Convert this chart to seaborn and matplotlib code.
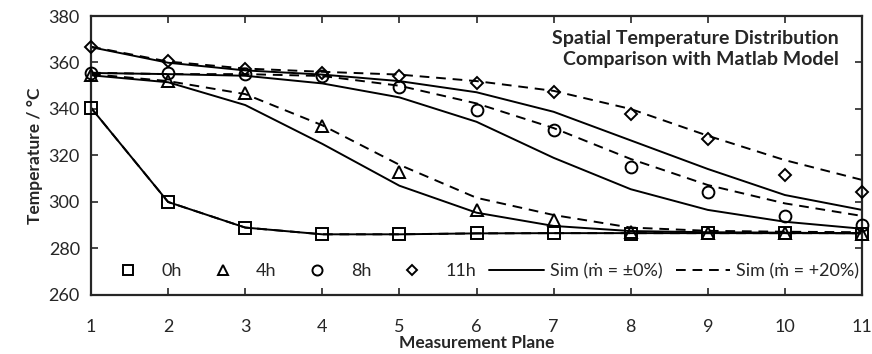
import pandas as pd
import matplotlib
matplotlib.use('Agg')
import matplotlib.pyplot as plt
import seaborn as sns

# ----- measured vs simulated temperature along the measurement planes -----

planes = [1, 2, 3, 4, 5, 6, 7, 8, 9, 10, 11]
hours = ['0h', '4h', '8h', '11h']

# measured values
meas_0h = [340.5, 300.0, 289.0, 286.1, 286.1, 286.8, 286.8, 286.2, 286.5, 286.5, 286.2]
meas_4h = [354.6, 352.2, 346.7, 332.5, 313.0, 296.5, 292.3, 287.0, 286.5, 286.5, 286.2]
meas_8h = [355.6, 355.3, 355.0, 354.4, 349.6, 339.6, 331.0, 315.2, 304.4, 294.0, 290.0]
meas_11h = [366.6, 360.6, 357.4, 355.6, 354.2, 351.0, 347.4, 338.0, 327.0, 311.6, 304.4]

# simulation, mass flow +-0%
sim0_0h = [340.5, 300.0, 289.0, 286.1, 286.1, 286.5, 286.6, 286.6, 286.6, 286.6, 286.6]
sim0_4h = [354.5, 351.5, 341.7, 325.0, 307.0, 295.4, 289.7, 287.5, 287.0, 286.8, 286.5]
sim0_8h = [355.5, 355.0, 354.3, 351.0, 345.0, 334.5, 319.0, 305.5, 296.6, 291.5, 288.5]
sim0_11h = [366.6, 359.9, 356.6, 354.8, 352.0, 347.2, 338.8, 326.5, 314.2, 303.0, 296.6]

# simulation, mass flow +20%
sim20_0h = [340.5, 300.0, 289.0, 286.1, 286.1, 286.5, 286.6, 286.6, 286.6, 286.6, 286.6]
sim20_4h = [355.0, 352.0, 346.4, 333.0, 316.0, 301.8, 294.4, 289.0, 287.6, 287.2, 287.0]
sim20_8h = [355.6, 355.0, 355.0, 354.2, 350.0, 342.4, 331.8, 318.5, 307.3, 299.4, 294.0]
sim20_11h = [366.8, 360.4, 357.4, 356.0, 354.8, 352.0, 347.8, 340.0, 328.5, 318.0, 309.5]

meas = {'0h': meas_0h, '4h': meas_4h, '8h': meas_8h, '11h': meas_11h}
sim0 = {'0h': sim0_0h, '4h': sim0_4h, '8h': sim0_8h, '11h': sim0_11h}
sim20 = {'0h': sim20_0h, '4h': sim20_4h, '8h': sim20_8h, '11h': sim20_11h}
markers = {'0h': 's', '4h': '^', '8h': 'o', '11h': 'D'}
msizes = {'0h': 8, '4h': 8, '8h': 8.5, '11h': 6.5}

sns.set_style('ticks')
plt.rcParams['font.family'] = ['Lato', 'DejaVu Sans']

fig, ax = plt.subplots(figsize=(8.72, 3.54), dpi=100)
fig.subplots_adjust(left=0.1044, right=0.9885, top=0.9548, bottom=0.1667)

for h in hours:
    sns.lineplot(x=planes, y=sim0[h], ax=ax, color='black', lw=1.4, legend=False)
    sns.lineplot(x=planes, y=sim20[h], ax=ax, color='black', lw=1.4, legend=False,
                 linestyle=(0, (5, 3.5)))

for h in hours:
    ax.plot(planes, meas[h], linestyle='none', marker=markers[h], ms=msizes[h],
            mfc='none', mec='black', mew=1.4, clip_on=False, zorder=5)

# legend handles
handles = []
for h in hours:
    handles.append(plt.Line2D([], [], linestyle='none', marker=markers[h], ms=msizes[h] * 0.85,
                              mfc='none', mec='black', mew=1.4, label=h))
handles.append(plt.Line2D([], [], color='black', lw=1.4, label='Sim (ṁ = ±0%)'))
handles.append(plt.Line2D([], [], color='black', lw=1.4, linestyle=(0, (5, 3.5)),
                          label='Sim (ṁ = +20%)'))
ax.legend(handles=handles, ncol=6, frameon=False, loc='center',
          bbox_to_anchor=(0.505, 0.086), fontsize=13, handlelength=3,
          handletextpad=0.35, columnspacing=0.75, borderpad=0)

ax.text(0.9705, 0.95, 'Spatial Temperature Distribution\nComparison with Matlab Model',
        transform=ax.transAxes, ha='right', va='top', fontsize=14, fontweight='bold',
        linespacing=1.3)

ax.set_xlim(1, 11)
ax.set_ylim(260, 380)
ax.set_xticks(planes)
ax.set_yticks(range(260, 381, 20))
ax.tick_params(direction='in', top=True, right=True, length=5, width=1.2,
               labelsize=13)
ax.tick_params(axis='x', pad=17)
ax.tick_params(axis='y', pad=8)
for s in ax.spines.values():
    s.set_linewidth(1.6)
ax.set_xlabel('Measurement Plane', fontsize=12.5, fontweight='bold', labelpad=0)
ax.set_ylabel('Temperature / °C', fontsize=12.5, fontweight='bold', labelpad=4)

plt.savefig('out.png', dpi=100)
